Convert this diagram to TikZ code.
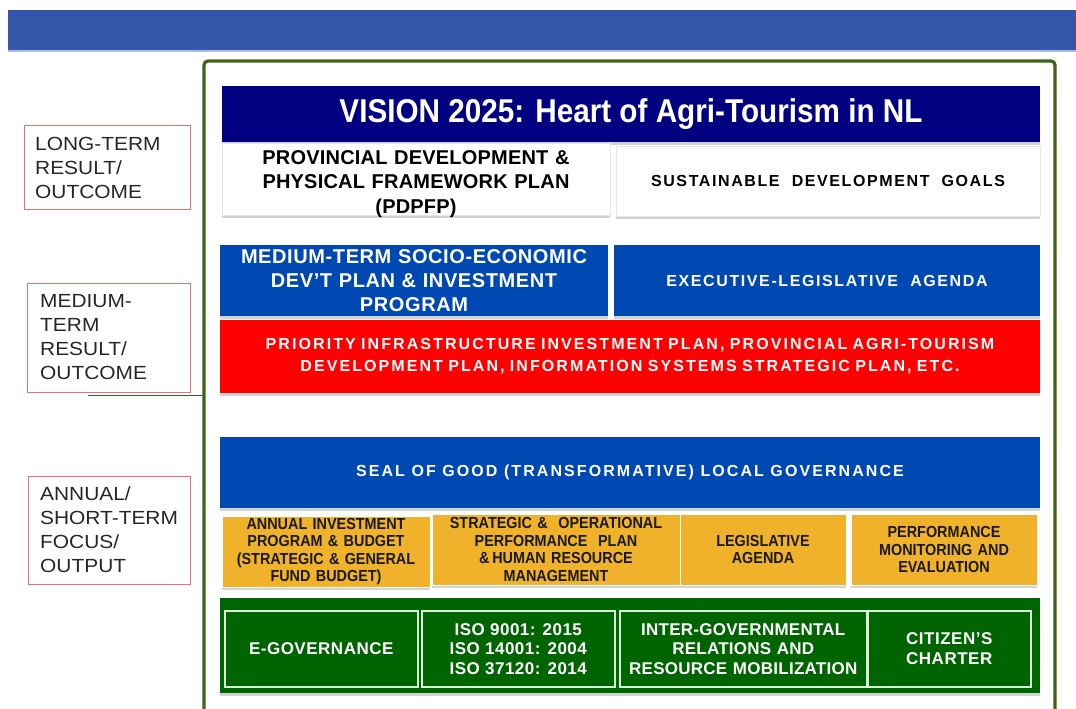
\documentclass[tikz,border=0pt]{standalone}
\usepackage{fontspec}
\setmainfont{Liberation Sans}
\newfontfamily\nar[FakeStretch=0.9]{Liberation Sans}
\newfontfamily\wid[FakeStretch=1.1]{Liberation Sans}
\usetikzlibrary{shadows}
\definecolor{topbar}{RGB}{51,85,170}
\definecolor{framegreen}{RGB}{62,100,22}
\definecolor{navy}{RGB}{0,0,128}
\definecolor{medblue}{RGB}{0,72,178}
\definecolor{redbox}{RGB}{255,0,0}
\definecolor{orangebox}{RGB}{240,178,42}
\definecolor{dkgreen}{RGB}{0,100,0}
\definecolor{labred}{RGB}{240,110,110}
\definecolor{connblue}{RGB}{40,80,170}
\tikzset{
  lab/.style={draw=labred, line width=1.2pt, anchor=north west, inner sep=0pt},
  labtext/.style={anchor=north west, align=left, inner sep=0pt, font=\wid\fontsize{19}{24}\selectfont, text=black!85},
  box/.style={anchor=north west, inner sep=2pt, align=center, outer sep=0pt,
    drop shadow={shadow xshift=0pt, shadow yshift=-3pt, opacity=0.35}},
  wbox/.style={box, fill=white, draw=black!10, text=black},
  bbox/.style={box, fill=medblue, text=white},
  obox/.style={box, fill=orangebox, text=black!90, draw=white, line width=1pt, font=\nar\bfseries\fontsize{16}{17.5}\selectfont},
  gbox/.style={anchor=north west, inner sep=2pt, align=center, fill=dkgreen, draw=white!85!green, line width=1.5pt, text=white, font=\bfseries\fontsize{17}{19.5}\selectfont\addfontfeature{LetterSpace=3}},
}
\begin{document}
\begin{tikzpicture}[x=1pt,y=-1pt]
\useasboundingbox (0,0) rectangle (1076,709);
% top bar
\fill[topbar] (8,10) rectangle (1076,50);
\fill[topbar!40] (8,50) rectangle (1076,52);
% green frame
\draw[framegreen, line width=3.2pt, rounded corners=4pt] (204,720) -- (204,61) -- (1055,61) -- (1055,720);
% left labels
\node[lab, minimum width=166pt, minimum height=84pt] (lt) at (24,125) {};
\node[labtext] (ltt) at (35,137) {LONG-TERM\\RESULT/\\OUTCOME};
\node[lab, minimum width=163pt, minimum height=109pt] (mt) at (27,283) {};
\node[labtext] (mtt) at (40,294) {MEDIUM-\\TERM\\RESULT/\\OUTCOME};
\node[lab, minimum width=162pt, minimum height=108pt] (st) at (28,476) {};
\node[labtext] (stt) at (40,487) {ANNUAL/\\SHORT-TERM\\FOCUS/\\OUTPUT};
\coordinate (c1) at (88,395);
\coordinate (c2) at (203,395);
\draw[connblue, line width=1pt] (c1) -- (c2);
% vision
\node[box, fill=navy, text=white, minimum width=818pt, minimum height=56pt,
  font=\nar\bfseries\fontsize{33}{34}\selectfont] (vision) at (222,86) {VISION 2025: Heart of Agri-Tourism in NL};
\node[wbox, minimum width=388pt, minimum height=72pt] (pdpfp) at (222,143) {};
\node[align=center, inner sep=0pt, text width=384pt, text=black,
  font=\bfseries\fontsize{20}{24.5}\selectfont\addfontfeature{LetterSpace=1}] (pdpfpt) at ([yshift=-5pt]pdpfp.center) {PROVINCIAL DEVELOPMENT \&\\PHYSICAL FRAMEWORK PLAN\\(PDPFP)};
\node[wbox, minimum width=424pt, minimum height=70pt,
  font=\bfseries\fontsize{16}{18}\selectfont\addfontfeature{LetterSpace=10}] (sdg) at (616,146) {SUSTAINABLE\ \ DEVELOPMENT\ \ GOALS};
% medium
\node[bbox, minimum width=388pt, minimum height=71pt, text width=384pt,
  font=\bfseries\fontsize{20}{24}\selectfont\addfontfeature{LetterSpace=3}] (mtdp) at (220,245) {MEDIUM-TERM SOCIO-ECONOMIC\\DEV'T PLAN \& INVESTMENT\\PROGRAM};
\node[bbox, minimum width=426pt, minimum height=71pt,
  font=\bfseries\fontsize{16}{18}\selectfont\addfontfeature{LetterSpace=10}] (ela) at (614,245) {EXECUTIVE-LEGISLATIVE\ \ AGENDA};
\node[box, fill=redbox, text=white, minimum width=820pt, minimum height=73pt, text width=815pt,
  font=\bfseries\fontsize{16}{22}\selectfont\addfontfeature{LetterSpace=13}] (pip) at (220,320) {PRIORITY INFRASTRUCTURE INVESTMENT PLAN, PROVINCIAL AGRI-TOURISM\\DEVELOPMENT PLAN, INFORMATION SYSTEMS STRATEGIC PLAN, ETC.};
% annual
\node[bbox, minimum width=820pt, minimum height=71pt,
  font=\bfseries\fontsize{16}{18}\selectfont\addfontfeature{LetterSpace=13}] (sglg) at (220,437) {SEAL OF GOOD (TRANSFORMATIVE) LOCAL GOVERNANCE};
\node[obox, minimum width=206pt, minimum height=71pt, text width=204pt] (aip) at (222,516) {ANNUAL INVESTMENT\\PROGRAM \& BUDGET\\(STRATEGIC \& GENERAL\\FUND BUDGET)};
\node[obox, minimum width=246pt, minimum height=71pt, text width=244pt] (sopp) at (432,514) {STRATEGIC \&\ \ OPERATIONAL\\PERFORMANCE\ \ PLAN\\\&\,HUMAN RESOURCE\\MANAGEMENT};
\node[obox, minimum width=166pt, minimum height=71pt, text width=162pt] (leg) at (680,514) {LEGISLATIVE\\AGENDA};
\node[obox, minimum width=185pt, minimum height=71pt, text width=182pt] (pme) at (851,514) {PERFORMANCE\\MONITORING AND\\EVALUATION};
% green panel
\node[box, fill=dkgreen, minimum width=820pt, minimum height=95pt, inner sep=0pt] (panel) at (220,598) {};
\node[gbox, minimum width=193pt, minimum height=76pt] (egov) at (224,610) {E-GOVERNANCE};
\node[gbox, minimum width=193pt, minimum height=76pt] (iso) at (421,610) {ISO 9001: 2015\\ISO 14001: 2004\\ISO 37120: 2014};
\node[gbox, minimum width=245pt, minimum height=76pt, text width=243pt,
  font=\bfseries\fontsize{17}{19.5}\selectfont\addfontfeature{LetterSpace=1.5}] (igr) at (619,610) {INTER-GOVERNMENTAL\\RELATIONS AND\\RESOURCE MOBILIZATION};
\node[gbox, minimum width=163pt, minimum height=76pt] (cc) at (867,610) {CITIZEN'S\\CHARTER};
\end{tikzpicture}
\end{document}
